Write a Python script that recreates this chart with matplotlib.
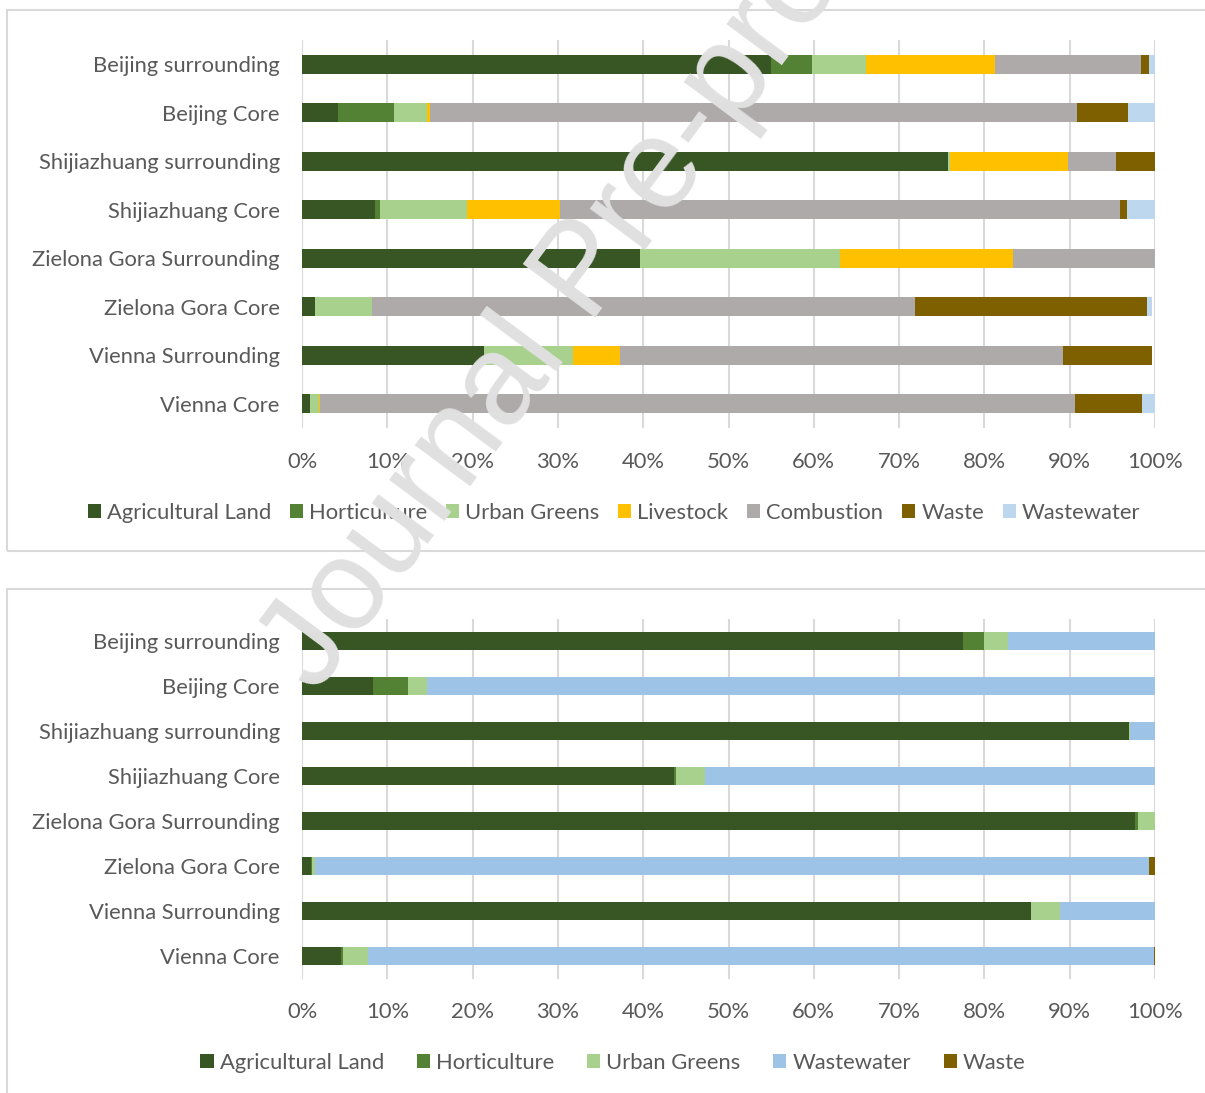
import matplotlib
matplotlib.use("Agg")
import matplotlib.pyplot as plt
import numpy as np
from matplotlib.patches import Patch, Rectangle

plt.rcParams['font.family'] = ['Lato', 'DejaVu Sans']

categories = ["Beijing surrounding", "Beijing Core", "Shijiazhuang surrounding",
              "Shijiazhuang Core", "Zielona Gora Surrounding", "Zielona Gora Core",
              "Vienna Surrounding", "Vienna Core"]

# Top panel series (percent shares)
top_series = ["Agricultural Land", "Horticulture", "Urban Greens", "Livestock",
              "Combustion", "Waste", "Wastewater"]
top_agri = [55.0, 4.2, 75.7, 8.6, 39.6, 1.5, 21.3, 0.9]
top_hort = [4.8, 6.6, 0.0, 0.5, 0.0, 0.0, 0.0, 0.0]
top_urban = [6.3, 3.9, 0.3, 10.2, 23.5, 6.75, 10.5, 1.1]
top_livestock = [15.1, 0.35, 13.8, 10.9, 20.3, 0.0, 5.5, 0.15]
top_combustion = [17.2, 75.85, 5.6, 65.7, 16.6, 63.65, 51.9, 88.45]
top_waste = [0.9, 5.9, 4.6, 0.8, 0.0, 27.2, 10.5, 7.9]
top_wastewater = [0.7, 3.2, 0.0, 3.3, 0.0, 0.6, 0.0, 1.5]
top_colors = ["#375623", "#548235", "#A9D18E", "#FFC000", "#AEAAAA", "#7F6000", "#BDD7EE"]

# Bottom panel series
bot_series = ["Agricultural Land", "Horticulture", "Urban Greens", "Wastewater", "Waste"]
bot_agri = [77.5, 8.3, 97.0, 43.6, 97.7, 1.06, 85.5, 4.6]
bot_hort = [2.4, 4.1, 0.0, 0.2, 0.3, 0.1, 0.0, 0.2]
bot_urban = [2.9, 2.3, 0.1, 3.5, 2.0, 0.35, 3.4, 2.9]
bot_wastewater = [17.2, 85.3, 2.9, 52.7, 0.0, 97.8, 11.1, 92.2]
bot_waste = [0.0, 0.0, 0.0, 0.0, 0.0, 0.7, 0.0, 0.1]
bot_colors = ["#375623", "#548235", "#A9D18E", "#9DC3E6", "#7F6000"]

xticks = [0, 10, 20, 30, 40, 50, 60, 70, 80, 90, 100]
xticklabels = [f"{t}%" for t in xticks]

W, H = 1205, 1093
fig = plt.figure(figsize=(W / 100, H / 100), dpi=100)
TXT = "#595959"
FS = 15.8


def px(x0, y0, x1, y1):
    return [x0 / W, 1 - y1 / H, (x1 - x0) / W, (y1 - y0) / H]


def draw_panel(ax, series_vals, names, colors):
    y = np.arange(len(categories))
    left = np.zeros(len(categories))
    handles = []
    for vals, name, col in zip(series_vals, names, colors):
        v = np.array(vals, dtype=float)
        ax.barh(y, v, left=left, height=0.40, color=col, edgecolor='none', zorder=3)
        left += v
        handles.append(Patch(facecolor=col, edgecolor='none', label=name))
    ax.set_xlim(0, 100)
    ax.set_ylim(len(categories) - 0.5, -0.5)
    ax.set_yticks(y)
    ax.set_yticklabels(categories, fontsize=FS, color=TXT)
    ax.set_xticks(xticks)
    ax.set_xticklabels(xticklabels, fontsize=FS, color=TXT)
    ax.tick_params(axis='both', length=0)
    ax.tick_params(axis='y', pad=16)
    ax.tick_params(axis='x', pad=17)
    for s in ax.spines.values():
        s.set_visible(False)
    ax.grid(axis='x', color="#D9D9D9", linewidth=1.5, zorder=0)
    ax.set_axisbelow(True)
    return handles


# panel borders
fig.patches.append(Rectangle((7 / W, 1 - 551 / H), (W + 20 - 7) / W, (551 - 10) / H,
                             transform=fig.transFigure, fill=False,
                             edgecolor="#D9D9D9", linewidth=1.5, zorder=0))
fig.patches.append(Rectangle((7 / W, 1 - (H + 20) / H), (W + 20 - 7) / W, (H + 20 - 589) / H,
                             transform=fig.transFigure, fill=False,
                             edgecolor="#D9D9D9", linewidth=1.5, zorder=0))

ax1 = fig.add_axes(px(302, 40, 1155, 428))
h1 = draw_panel(ax1, [top_agri, top_hort, top_urban, top_livestock, top_combustion,
                      top_waste, top_wastewater], top_series, top_colors)
fig.legend(handles=h1, loc='center', bbox_to_anchor=(614 / W, 1 - 513 / H), ncol=7,
           frameon=False, fontsize=FS, labelcolor=TXT, handlelength=0.6, handleheight=0.6,
           handletextpad=0.27, columnspacing=0.86, borderaxespad=0)

ax2 = fig.add_axes(px(302, 618.5, 1155, 978.5))
h2 = draw_panel(ax2, [bot_agri, bot_hort, bot_urban, bot_wastewater, bot_waste],
                bot_series, bot_colors)
fig.legend(handles=h2, loc='center', bbox_to_anchor=(613 / W, 1 - 1063 / H), ncol=5,
           frameon=False, fontsize=FS, labelcolor=TXT, handlelength=0.6, handleheight=0.6,
           handletextpad=0.27, columnspacing=1.5, borderaxespad=0)

# watermark
fig.text(316 / W, 1 - 695 / H, "Journal Pre-proof", rotation=53.5, rotation_mode='anchor',
         ha='left', va='baseline', fontsize=93, color="#E0E0E0",
         family=['Liberation Sans', 'DejaVu Sans'], zorder=10)

fig.savefig("out.png", dpi=100)
